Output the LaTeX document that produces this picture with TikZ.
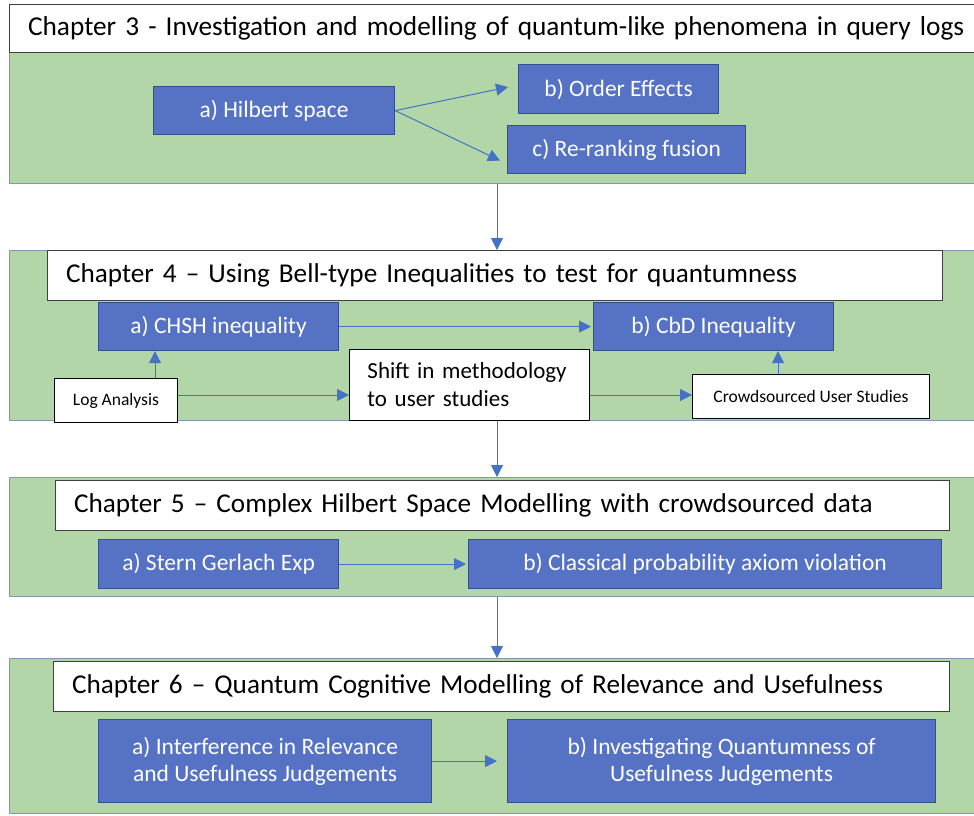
\documentclass[tikz,border=0pt]{standalone}
\usepackage{fontspec}
\setmainfont{Carlito}
\usetikzlibrary{arrows.meta,calc}
\definecolor{panelgreen}{HTML}{B2D6A8}
\definecolor{panelline}{HTML}{8497B0}
\definecolor{boxblue}{HTML}{5572C4}
\definecolor{boxline}{HTML}{2F528F}
\definecolor{linkblue}{HTML}{4472C4}
\definecolor{hdrline}{HTML}{404040}

\begin{document}
\begin{tikzpicture}[x=1pt,y=-1pt,
  panel/.style={draw=panelline, fill=panelgreen, line width=1.2pt, anchor=north west, inner sep=0pt},
  hdr/.style={draw=hdrline, fill=white, line width=1.2pt, anchor=north west,
    inner xsep=18.5pt, inner ysep=0pt, align=left, font=\fontsize{27.2}{32}\selectfont},
  bluebox/.style={draw=boxline, fill=boxblue, line width=1.2pt, text=white, anchor=north west,
    inner sep=0pt, align=center, font=\fontsize{23.5}{27}\selectfont},
  notebox/.style={draw=black, fill=white, line width=0.9pt, anchor=north west,
    inner sep=0pt, align=center, font=\fontsize{17.5}{21}\selectfont},
  link/.style={draw=linkblue, line width=1pt, -{Triangle[length=12pt,width=12pt]}},
]
\useasboundingbox (0,0) rectangle (974,815);
\clip (0,0) rectangle (974,815);
\fill[white] (0,0) rectangle (974,815);

% shared x positions of the vertical connectors
\coordinate (spine) at (497,0);
\coordinate (upL) at (155,0);
\coordinate (upR) at (778,0);
\coordinate (row4) at (0,395);

% ---------- Chapter 3 ----------
\node[panel, minimum width=990pt, minimum height=131pt] (g3) at (9,52) {};
\node[hdr, text width=953pt, minimum height=48pt, font=\fontsize{27.3}{31}\selectfont] (h3) at (9,4)
  {\mbox{Chapter 3 - Investigation and modelling of quantum-like phenomena in query logs}};
\node[bluebox, minimum width=241pt, minimum height=48pt] (hil) at (153,86) {a) Hilbert space};
\node[bluebox, minimum width=200pt, minimum height=49pt] (ord) at (518,64) {b) Order Effects};
\node[bluebox, minimum width=238pt, minimum height=48pt] (rer) at (507,125) {c) Re-ranking fusion};
\draw[link] (hil.east) -- ($(ord.west)+(-10,-2)$);
\draw[link] (hil.east) -- ($(rer.west)+(-7,11)$);

% ---------- Chapter 4 ----------
\node[panel, minimum width=990pt, minimum height=170pt] (g4) at (9,250) {};
\node[hdr, text width=858pt, minimum height=50pt] (h4) at (47,250)
  {\mbox{Chapter 4 – Using Bell-type Inequalities to test for quantumness}};
\node[bluebox, minimum width=240pt, minimum height=48pt] (chsh) at (98,302) {a) CHSH inequality};
\node[bluebox, minimum width=240pt, minimum height=48pt] (cbd) at (593,302) {b) CbD Inequality};
\node[notebox, minimum width=123pt, minimum height=44pt] (log) at (54,378) {Log Analysis};
\node[notebox, minimum height=71pt, inner xsep=18pt, text width=204pt, align=left,
  font=\fontsize{23}{28}\selectfont] (shift) at (349,349) {Shift in methodology\\to user studies};
\node[notebox, minimum width=237pt, minimum height=44pt] (crowd) at (692,374) {Crowdsourced User Studies};

\draw[link] (g3.south -| spine) -- (g4.north -| spine);
\draw[link] (chsh.east) -- ($(cbd.west)+(-2,0)$);
\draw[link] (log.east |- row4) -- (shift.west |- row4);
\draw[link] (shift.east |- row4) -- (crowd.west |- row4);
\draw[link] (log.north -| upL) -- (chsh.south -| upL);
\draw[link] (crowd.north -| upR) -- (cbd.south -| upR);

% ---------- Chapter 5 ----------
\node[panel, minimum width=990pt, minimum height=119pt] (g5) at (9,477) {};
\node[hdr, text width=857pt, minimum height=50pt] (h5) at (55,480)
  {\mbox{Chapter 5 – Complex Hilbert Space Modelling with crowdsourced data}};
\node[bluebox, minimum width=240pt, minimum height=49pt] (stern) at (98,539) {a) Stern Gerlach Exp};
\node[bluebox, minimum width=473pt, minimum height=49pt] (clas) at (468,539) {b) Classical probability axiom violation};
\draw[link] (shift.south -| spine) -- (g5.north -| spine);
\draw[link] (stern.east) -- ($(clas.west)+(-2,0)$);

% ---------- Chapter 6 ----------
\node[panel, minimum width=990pt, minimum height=155pt] (g6) at (9,658) {};
\node[hdr, text width=859pt, minimum height=50pt] (h6) at (53,661)
  {\mbox{Chapter 6 – Quantum Cognitive Modelling of Relevance and Usefulness}};
\node[bluebox, minimum width=333pt, minimum height=83pt] (intf) at (98,719)
  {a) Interference in Relevance\\and Usefulness Judgements};
\node[bluebox, minimum width=428pt, minimum height=83pt] (inv) at (507,719)
  {b) Investigating Quantumness of\\Usefulness Judgements};
\draw[link] (g5.south -| spine) -- (g6.north -| spine);
\draw[link] (intf.east) -- ($(inv.west)+(-10,0)$);
\end{tikzpicture}
\end{document}
